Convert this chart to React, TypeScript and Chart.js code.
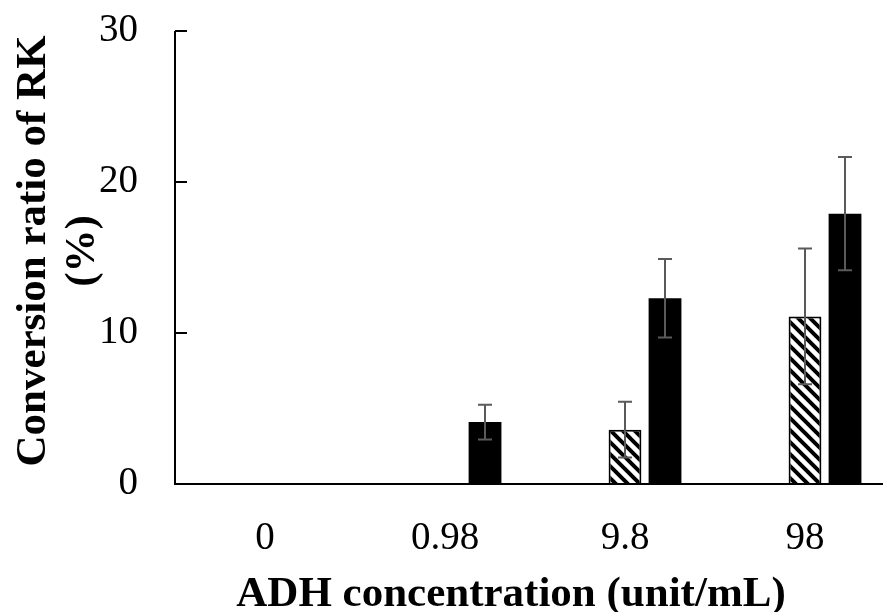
import React, { useEffect, useRef } from "react";
import { Chart, registerables } from "chart.js";

Chart.register(...registerables);

// ---- data ----
const categories = ["0", "0.98", "9.8", "98"];
const blankSeries = [0, 0, 0, 0];
const hatchedValues = [0, 0, 3.6, 11.1];
const hatchedErrors = [0, 0, 1.85, 4.5];
const solidValues = [0, 4.1, 12.3, 17.9];
const solidErrors = [0, 1.15, 2.6, 3.75];
const yMin = 0;
const yMax = 30;
const yStep = 10;
const yTitleLines = ["Conversion ratio of RK", "(%)"];
const xTitle = "ADH concentration (unit/mL)";

const FONT = '"Liberation Serif", "Times New Roman", serif';

function makeHatch(): CanvasPattern | string {
  const c = document.createElement("canvas");
  c.width = 12;
  c.height = 12;
  const g = c.getContext("2d");
  if (!g) return "#fff";
  g.fillStyle = "#fff";
  g.fillRect(0, 0, 12, 12);
  g.strokeStyle = "#000";
  g.lineWidth = 4;
  g.lineCap = "square";
  for (const off of [-12, 0, 12]) {
    g.beginPath();
    g.moveTo(off - 2, -2);
    g.lineTo(off + 14, 14);
    g.stroke();
  }
  const p = g.createPattern(c, "repeat");
  return p || "#fff";
}

const decorPlugin = {
  id: "decor",
  afterDatasetsDraw(chart: any) {
    const ctx = chart.ctx;
    const ys = chart.scales.y;
    const errs = [null, hatchedErrors, solidErrors];
    const vals = [blankSeries, hatchedValues, solidValues];
    ctx.save();
    ctx.strokeStyle = "#5a5a5a";
    ctx.lineWidth = 2;
    errs.forEach((errArr, di) => {
      if (!errArr) return;
      const meta = chart.getDatasetMeta(di);
      meta.data.forEach((bar: any, i: number) => {
        const e = errArr[i];
        if (!e) return;
        const v = vals[di][i];
        const top = ys.getPixelForValue(v + e);
        const bot = ys.getPixelForValue(v - e);
        const x = Math.round(bar.x);
        const hw = 7;
        ctx.beginPath();
        ctx.moveTo(x, top);
        ctx.lineTo(x, bot);
        ctx.moveTo(x - hw, top);
        ctx.lineTo(x + hw, top);
        ctx.moveTo(x - hw, bot);
        ctx.lineTo(x + hw, bot);
        ctx.stroke();
      });
    });
    ctx.restore();
  },
  afterDraw(chart: any) {
    const ctx = chart.ctx;
    const area = chart.chartArea;
    const ys = chart.scales.y;
    ctx.save();
    // axes lines
    ctx.strokeStyle = "#000";
    ctx.lineWidth = 2;
    ctx.beginPath();
    ctx.moveTo(area.left, area.top);
    ctx.lineTo(area.left, area.bottom);
    ctx.lineTo(area.right + 10, area.bottom);
    ctx.stroke();
    // inside tick marks on y
    for (let v = yMin; v <= yMax; v += yStep) {
      const py = Math.round(ys.getPixelForValue(v));
      ctx.beginPath();
      ctx.moveTo(area.left, py);
      ctx.lineTo(area.left + 12, py);
      ctx.stroke();
    }
    // titles
    ctx.fillStyle = "#000";
    ctx.font = `bold 43px ${FONT}`;
    ctx.textAlign = "center";
    ctx.textBaseline = "alphabetic";
    ctx.fillText(xTitle, 511, 606);
    const cy = 251;
    const baselines = [45, 94];
    yTitleLines.forEach((line, i) => {
      ctx.save();
      ctx.translate(baselines[i], cy);
      ctx.rotate(-Math.PI / 2);
      ctx.fillText(line, 0, 0);
      ctx.restore();
    });
    ctx.restore();
  },
};

export default function App() {
  const ref = useRef<HTMLCanvasElement | null>(null);

  useEffect(() => {
    const canvas = ref.current;
    if (!canvas) return;
    const hatch = makeHatch();
    const chart = new Chart(canvas, {
      type: "bar",
      data: {
        labels: categories,
        datasets: [
          {
            label: "Series 1",
            data: blankSeries,
            backgroundColor: "rgba(0,0,0,0)",
            borderWidth: 0,
          },
          {
            label: "Series 2",
            data: hatchedValues,
            backgroundColor: hatch as any,
            borderColor: "#000",
            borderWidth: 2,
          },
          {
            label: "Series 3",
            data: solidValues,
            backgroundColor: "#000",
            borderColor: "#000",
            borderWidth: 0,
          },
        ],
      },
      options: {
        animation: false,
        responsive: false,
        maintainAspectRatio: false,
        datasets: {
          bar: {
            categoryPercentage: 0.667,
            barPercentage: 0.82,
          },
        },
        layout: { padding: { top: 31, right: 5, left: 0, bottom: 0 } },
        plugins: {
          legend: { display: false },
          tooltip: { enabled: false },
          title: { display: false },
        },
        scales: {
          x: {
            grid: { display: false, drawTicks: false },
            border: { display: false },
            ticks: {
              color: "#000",
              font: { family: FONT, size: 39 },
              padding: 31,
              maxRotation: 0,
              autoSkip: false,
            },
            afterFit: (s: any) => {
              s.height = 128;
              s.paddingLeft = 0;
              s.paddingRight = 0;
            },
          },
          y: {
            min: yMin,
            max: yMax,
            grid: { display: false, drawTicks: false },
            border: { display: false },
            ticks: {
              stepSize: yStep,
              color: "#000",
              font: { family: FONT, size: 39 },
              padding: 37,
            },
            afterFit: (s: any) => {
              s.width = 175;
              s.paddingTop = 0;
              s.paddingBottom = 0;
            },
          },
        },
      },
      plugins: [decorPlugin],
    });
    return () => chart.destroy();
  }, []);

  return (
    <div
      style={{
        position: "fixed",
        left: 0,
        top: 0,
        width: 883,
        height: 612,
        overflow: "hidden",
        background: "#fff",
      }}
    >
      <canvas ref={ref} width={900} height={612} style={{ display: "block" }} />
    </div>
  );
}
